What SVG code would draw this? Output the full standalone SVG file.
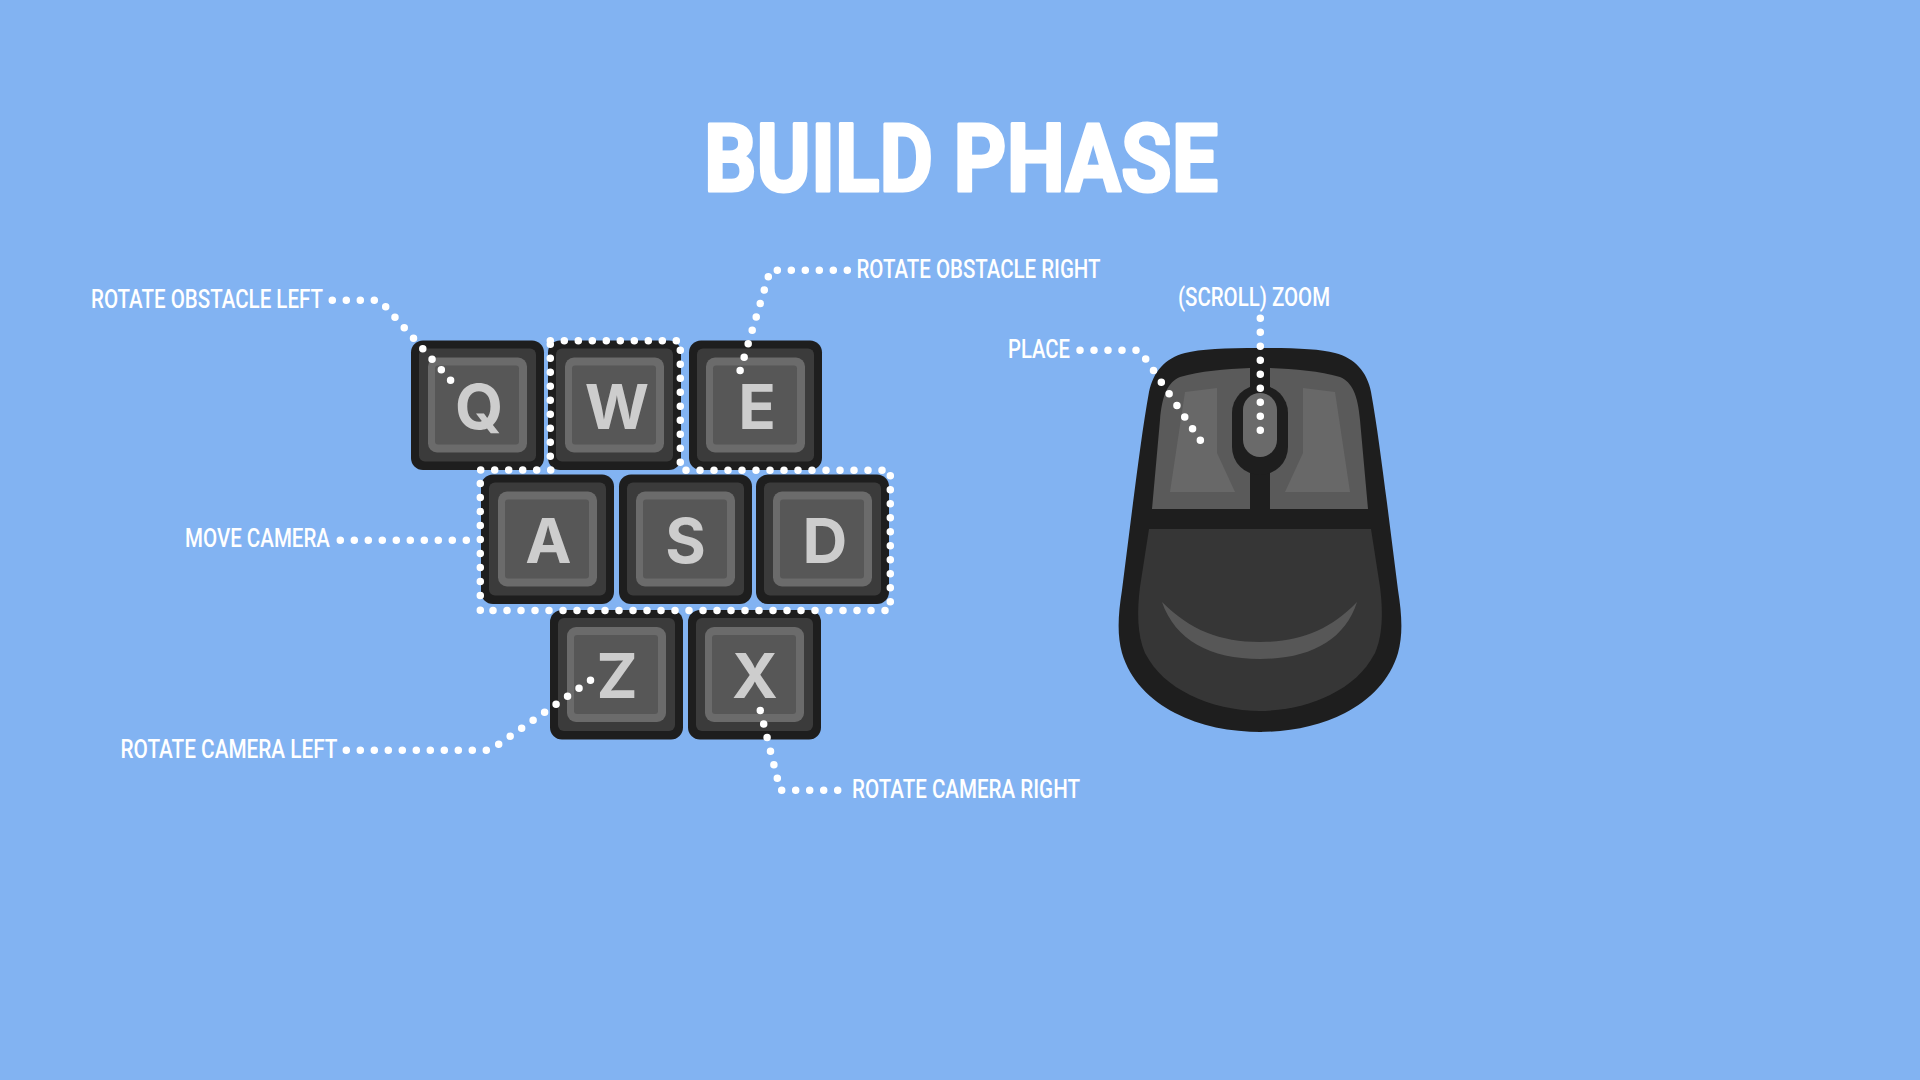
<svg xmlns="http://www.w3.org/2000/svg" width="1920" height="1080" viewBox="0 0 1920 1080">
<style>
.bg{fill:#82b3f2}
.title{font-family:Roboto,"Liberation Sans",Arial,sans-serif;font-weight:700;font-size:95px;fill:#fff;stroke:#fff;stroke-width:3px;stroke-linejoin:round}
.label{font-family:Roboto,"Liberation Sans",Arial,sans-serif;font-weight:500;font-size:25px;fill:#fff}
.cap{font-family:Inter,"Liberation Sans",Arial,sans-serif;font-weight:700;font-size:62px;fill:#cdcdcd;text-anchor:middle}
.dots{fill:none;stroke:#fff;stroke-width:7.5;stroke-linecap:round;stroke-dasharray:0 14}
</style>
<defs>
<g id="keycap">
<rect width="133" height="129.5" rx="12" fill="#1e1e1e"/>
<rect x="8" y="8" width="117" height="113" rx="6" fill="#3b3b3b"/>
<rect x="17" y="17" width="99" height="95" rx="9" fill="#6b6b6b"/>
<rect x="24" y="25" width="84" height="79" rx="3" fill="#575757"/>
</g>
<g id="mouse-half">
<path d="M1262 348 H1260 C1225 348 1200 349 1185 353 C1165 358 1153 372 1149 392 C1143 425 1138 465 1133 503 L1122 590 C1118 615 1117 635 1122 653 C1130 680 1150 700 1175 713 C1200 726 1230 732 1262 732 Z" fill="#1e1e1e"/>
<path d="M1152 509 L1160 420 C1162 395 1168 382 1180 377 C1200 371 1225 369 1250 368 V509 Z" fill="#5a5a5a"/>
<path d="M1185 392 L1217 388 V453 L1235 492 H1170 Z" fill="#686868"/>
<path d="M1262 529 H1149 L1140 587 C1137 610 1137 635 1145 653 C1155 672 1170 685 1190 695 C1210 705 1235 711 1262 711 Z" fill="#363636"/>
</g>
</defs>
<rect class="bg" width="1920" height="1080"/>
<text class="title" x="704" y="190.5" textLength="514" lengthAdjust="spacingAndGlyphs">BUILD PHASE</text>
<g id="key-q"><use href="#keycap" x="411" y="340.5"/><text class="cap" x="479" y="429">Q</text></g>
<g id="key-w"><use href="#keycap" x="548" y="340.5"/><text class="cap" x="617" y="429">W</text></g>
<g id="key-e"><use href="#keycap" x="689" y="340.5"/><text class="cap" x="757" y="429">E</text></g>
<g id="key-a"><use href="#keycap" x="481" y="474.5"/><text class="cap" x="548.5" y="563">A</text></g>
<g id="key-s"><use href="#keycap" x="619" y="474.5"/><text class="cap" x="685.5" y="563">S</text></g>
<g id="key-d"><use href="#keycap" x="756" y="474.5"/><text class="cap" x="825" y="563">D</text></g>
<g id="key-z"><use href="#keycap" x="550" y="610"/><text class="cap" x="617" y="698">Z</text></g>
<g id="key-x"><use href="#keycap" x="688" y="610"/><text class="cap" x="755" y="698">X</text></g>
<g id="mouse">
<use href="#mouse-half"/>
<use href="#mouse-half" transform="matrix(-1 0 0 1 2520 0)"/>
<path d="M1162 602 C1190 630 1220 642 1260 642 C1300 642 1330 630 1357 602 C1345 640 1310 659 1260 659 C1210 659 1175 640 1162 602 Z" fill="#575757"/>
<rect x="1250" y="350" width="20" height="165" fill="#1e1e1e"/>
<rect x="1232" y="385" width="56" height="90" rx="28" fill="#1e1e1e"/>
<rect x="1243" y="393" width="34" height="64" rx="17" fill="#6a6a6a"/>
</g>
<g id="connectors" class="dots">
<path d="M550.3 340.7 H677 M550.3 344.3 V457 M680.3 350.3 V463"/>
<path d="M885 610.5 H492 M480.3 610.3 H480 M480.3 483.5 V596.5 M480.7 470 H551 M686 470.3 H882.5 M890.3 475.7 V602.5"/>
<path d="M332.3 300.3 H375 M385.7 306.7 L451 380.6"/>
<path d="M847.3 270.3 H777 M768.3 276.7 L740.1 370.7"/>
<path d="M340.3 540.3 H467"/>
<path d="M346.3 750.3 H487 M498.7 744.3 L590.7 680"/>
<path d="M837.7 790.3 H781 M777.3 778.3 L760.2 710"/>
<path d="M1080 350.3 H1137 M1145.7 359 L1200.6 440.7"/>
<path d="M1260.3 318.3 V431"/>
</g>
<g id="labels">
<text class="label" x="91" y="308" textLength="232" lengthAdjust="spacingAndGlyphs">ROTATE OBSTACLE LEFT</text>
<text class="label" x="856.5" y="278" textLength="244" lengthAdjust="spacingAndGlyphs">ROTATE OBSTACLE RIGHT</text>
<text class="label" x="1178" y="306" textLength="152" lengthAdjust="spacingAndGlyphs">(SCROLL) ZOOM</text>
<text class="label" x="1008" y="358" textLength="62" lengthAdjust="spacingAndGlyphs">PLACE</text>
<text class="label" x="185" y="547" textLength="145" lengthAdjust="spacingAndGlyphs">MOVE CAMERA</text>
<text class="label" x="120.5" y="758" textLength="217" lengthAdjust="spacingAndGlyphs">ROTATE CAMERA LEFT</text>
<text class="label" x="852" y="798" textLength="228" lengthAdjust="spacingAndGlyphs">ROTATE CAMERA RIGHT</text>
</g>
</svg>
